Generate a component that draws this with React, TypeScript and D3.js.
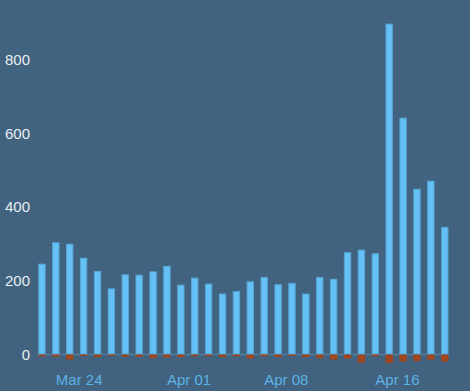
import React from "react";
import * as d3 from "d3";

const categories = [
  "Mar 23", "Mar 24", "Mar 25", "Mar 26", "Mar 27", "Mar 28", "Mar 29", "Mar 30", "Mar 31",
  "Apr 01", "Apr 02", "Apr 03", "Apr 04", "Apr 05", "Apr 06", "Apr 07", "Apr 08", "Apr 09",
  "Apr 10", "Apr 11", "Apr 12", "Apr 13", "Apr 14", "Apr 15", "Apr 16", "Apr 17", "Apr 18",
  "Apr 19", "Apr 20", "Apr 21",
];
const positiveValues = [
  245, 303, 299, 261, 225, 178, 216, 215, 224, 239, 188, 207, 191, 164, 171,
  197, 209, 189, 193, 164, 209, 204, 276, 283, 273, 896, 641, 448, 470, 345,
];
const negativeValues = [
  -5, -6, -14, -4, -7, -4, -6, -6, -10, -8, -7, -5, -5, -7, -5,
  -11, -5, -7, -4, -7, -10, -14, -11, -22, -5, -23, -19, -18, -14, -19,
];
const xTickLabels = ["Mar 24", "Apr 01", "Apr 08", "Apr 16"];
const yTicks = [0, 200, 400, 600, 800];

const W = 470;
const H = 391;

export default function App() {
  const x = d3
    .scaleBand<string>()
    .domain(categories)
    .range([35, 451.7])
    .paddingInner(0.47)
    .paddingOuter(0.235);
  const y = d3.scaleLinear().domain([0, 800]).range([354.5, 59.5]);
  const bw = x.bandwidth();
  const font = "'Liberation Sans', Arial, sans-serif";

  return (
    <div style={{ position: "absolute", left: 0, top: 0 }}>
      <svg width={W} height={H} style={{ display: "block" }}>
        <rect x={0} y={0} width={W} height={H} fill="#41637f" />
        <line x1={37} x2={449} y1={y(0)} y2={y(0)} stroke="#4f7d9e" strokeWidth={1.5} />
        {categories.map((c, i) => (
          <g key={c}>
            <rect
              x={x(c)! + 0.5}
              width={bw - 1}
              y={y(positiveValues[i])}
              height={y(0) - y(positiveValues[i]) - 0.5}
              fill="#65c0f5"
              stroke="#56a6d6"
              strokeWidth={1}
            />
            <rect
              x={x(c)!}
              width={bw}
              y={y(0)}
              height={y(negativeValues[i]) - y(0)}
              fill="#a0461f"
            />
          </g>
        ))}
        {yTicks.map((t) => (
          <text
            key={t}
            x={30}
            y={y(t) + 5.4}
            textAnchor="end"
            fontFamily={font}
            fontSize={15}
            fill="#e8eef2"
          >
            {t}
          </text>
        ))}
        {xTickLabels.map((l) => (
          <text
            key={l}
            x={x(l)! + bw / 2}
            y={385}
            textAnchor="start"
            fontFamily={font}
            fontSize={15}
            fill="#5db2e6"
          >
            {l}
          </text>
        ))}
      </svg>
    </div>
  );
}
